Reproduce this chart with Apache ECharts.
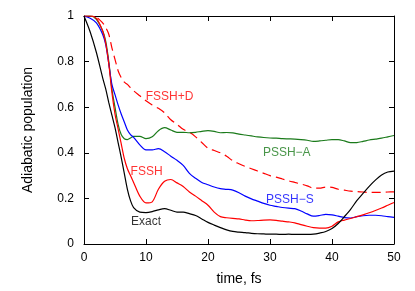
<!DOCTYPE html>
<html>
<head>
<meta charset="utf-8">
<script src="https://cdn.jsdelivr.net/npm/echarts@6/dist/echarts.min.js"></script>
<style>
html,body{margin:0;padding:0;background:#fff;}
#chart{width:415px;height:291px;}
</style>
</head>
<body>
<div id="chart"></div>
<script>
var times = [0,1,2,3,3.5,4,4.5,5,5.5,6,6.5,7,7.5,8,9,10,11,12,13,14,15,16,17,18,19,20,21,22,23,24,25,26,27,28,29,30,31,32,33,34,35,36,37,38,39,40,41,42,43,44,45,46,47,48,49,50];

var exact = [1.0,0.93,0.84,0.73,0.68,0.62,0.565,0.51,0.445,0.38,0.31,0.24,0.19,0.16,0.14,0.138,0.142,0.15,0.155,0.148,0.14,0.14,0.133,0.125,0.11,0.095,0.083,0.072,0.062,0.055,0.052,0.05,0.047,0.045,0.044,0.043,0.043,0.042,0.043,0.042,0.042,0.042,0.043,0.048,0.055,0.068,0.09,0.12,0.152,0.19,0.222,0.253,0.28,0.303,0.316,0.32];

var fssh = [1.0,1.0,0.99,0.935,0.88,0.79,0.665,0.57,0.505,0.44,0.375,0.33,0.3,0.27,0.21,0.18,0.185,0.24,0.275,0.283,0.268,0.252,0.228,0.21,0.19,0.17,0.14,0.12,0.115,0.112,0.11,0.105,0.102,0.103,0.105,0.106,0.104,0.1,0.097,0.093,0.085,0.078,0.072,0.07,0.07,0.078,0.097,0.105,0.112,0.12,0.128,0.137,0.147,0.158,0.17,0.182];

var fsshD = [1.0,1.0,0.995,0.97,0.95,0.92,0.86,0.81,0.76,0.73,0.71,0.70,0.685,0.672,0.65,0.628,0.61,0.595,0.575,0.545,0.525,0.503,0.49,0.47,0.445,0.42,0.41,0.4,0.385,0.365,0.352,0.34,0.33,0.32,0.31,0.3,0.293,0.285,0.277,0.27,0.263,0.255,0.245,0.245,0.25,0.248,0.24,0.236,0.232,0.23,0.228,0.226,0.226,0.227,0.228,0.229];

var psshA = [1.0,1.0,0.985,0.935,0.89,0.8,0.68,0.6,0.525,0.48,0.462,0.458,0.465,0.472,0.472,0.462,0.47,0.497,0.51,0.5,0.49,0.49,0.488,0.49,0.494,0.497,0.494,0.488,0.489,0.487,0.482,0.478,0.474,0.47,0.467,0.465,0.464,0.462,0.461,0.46,0.458,0.455,0.45,0.452,0.455,0.458,0.458,0.452,0.445,0.445,0.45,0.456,0.46,0.464,0.47,0.476];

var psshS = [1.0,0.99,0.97,0.92,0.875,0.79,0.7,0.655,0.61,0.57,0.535,0.5,0.48,0.468,0.435,0.413,0.413,0.418,0.405,0.385,0.367,0.345,0.31,0.288,0.27,0.26,0.25,0.243,0.24,0.236,0.225,0.21,0.198,0.188,0.178,0.17,0.165,0.16,0.157,0.155,0.145,0.132,0.122,0.125,0.13,0.128,0.122,0.116,0.114,0.12,0.124,0.126,0.126,0.124,0.12,0.117];

var xTicks = [0,10,20,30,40,50];
var yTicks = [0,0.2,0.4,0.6,0.8,1];

var labelNames = ['FSSH+D','FSSH','Exact','PSSH\u2212A','PSSH\u2212S'];
var labelT = [13.8,10.1,10.0,32.7,33.2];
var labelV = [0.648,0.319,0.098,0.40,0.196];
var labelColors = ['#ff0000','#ff0000','#000000','#1a7a1a','#0000ff'];

function pairs(vals){ return times.map(function(t,i){ return [t, vals[i]]; }); }

var FONT = 'Liberation Sans';
var chart = echarts.init(document.getElementById('chart'), null, {renderer:'canvas'});

function xAxisBase(extra){
  return Object.assign({
    type:'value', min:xTicks[0], max:xTicks[xTicks.length-1], interval:10,
    axisLine:{show:true,onZero:false,lineStyle:{color:'#000',width:1}},
    axisTick:{show:true,inside:true,length:5,lineStyle:{color:'#000'}},
    splitLine:{show:false}
  }, extra);
}
function yAxisBase(extra){
  return Object.assign({
    type:'value', min:yTicks[0], max:yTicks[yTicks.length-1], interval:0.2,
    axisLine:{show:true,onZero:false,lineStyle:{color:'#000',width:1}},
    axisTick:{show:true,inside:true,length:5,lineStyle:{color:'#000'}},
    splitLine:{show:false}
  }, extra);
}

var lineW = 1.2;
var option = {
  animation:false,
  backgroundColor:'#fff',
  textStyle:{fontFamily:FONT},
  grid:{left:84,right:21,top:16,bottom:45,containLabel:false},
  xAxis:[
    xAxisBase({position:'bottom',
      axisLabel:{show:true,margin:8,fontSize:12,color:'#000',fontFamily:FONT},
      name:'time, fs', nameLocation:'middle', nameGap:28,
      nameTextStyle:{fontSize:14,color:'#000',fontFamily:FONT}}),
    xAxisBase({position:'top',axisLabel:{show:false}})
  ],
  yAxis:[
    yAxisBase({position:'left',
      axisLabel:{show:true,margin:10,fontSize:12,color:'#000',fontFamily:FONT},
      name:'Adiabatic population', nameLocation:'middle', nameGap:49,
      nameTextStyle:{fontSize:14,color:'#000',fontFamily:FONT}}),
    yAxisBase({position:'right',axisLabel:{show:false}})
  ],
  series:[
    {type:'line',name:'FSSH+D',data:pairs(fsshD),showSymbol:false,smooth:0.3,
      lineStyle:{color:'#ff0000',width:lineW,type:[9,5]},z:2},
    {type:'line',name:'PSSH-A',data:pairs(psshA),showSymbol:false,smooth:0.3,
      lineStyle:{color:'#1a7a1a',width:lineW},z:3},
    {type:'line',name:'PSSH-S',data:pairs(psshS),showSymbol:false,smooth:0.3,
      lineStyle:{color:'#0000ff',width:lineW},z:3},
    {type:'line',name:'FSSH',data:pairs(fssh),showSymbol:false,smooth:0.3,
      lineStyle:{color:'#ff0000',width:lineW},z:4},
    {type:'line',name:'Exact',data:pairs(exact),showSymbol:false,smooth:0.3,
      lineStyle:{color:'#000000',width:lineW},z:5},
    {type:'scatter',name:'labels',symbolSize:0,silent:true,z:6,
      data:labelNames.map(function(n,i){
        return {name:n,value:[labelT[i],labelV[i]],
          label:{show:true,position:'inside',formatter:'{b}',color:labelColors[i],
            fontSize:12,fontFamily:FONT}};
      })}
  ]
};
chart.setOption(option);
</script>
</body>
</html>
